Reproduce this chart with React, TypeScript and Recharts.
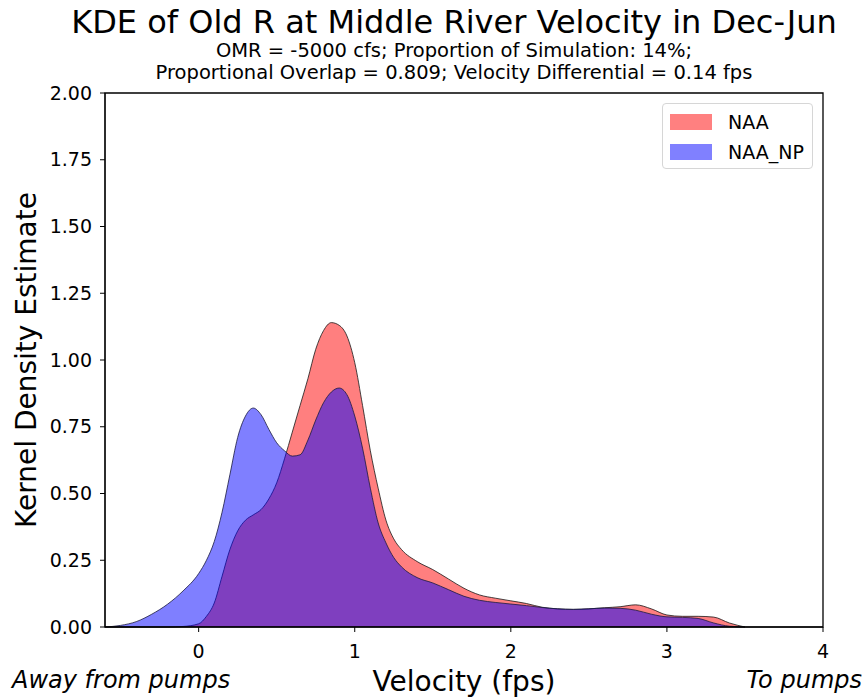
import { ComposedChart, Area, XAxis, YAxis, ReferenceArea } from "recharts"

const velocity = [
  -0.6, -0.5, -0.4, -0.3, -0.2, -0.1,
  0, 0.05, 0.1, 0.15, 0.2, 0.25, 0.3, 0.35, 0.4, 0.45, 0.5, 0.55, 0.6, 0.65, 0.7, 0.75, 0.8, 0.85, 0.9, 0.95,
  1.0, 1.05, 1.1, 1.15, 1.2, 1.25, 1.3,
  1.4, 1.5, 1.6, 1.7, 1.8, 1.9, 2.0, 2.1, 2.2, 2.3, 2.4, 2.5, 2.6, 2.7, 2.8, 2.9, 3.0, 3.1, 3.2, 3.3, 3.4, 3.5,
]

const naa = [
  0, 0, 0, 0, 0, 0.002,
  0.012, 0.04, 0.09, 0.19, 0.29, 0.36, 0.4, 0.42, 0.44, 0.48, 0.54, 0.63, 0.73, 0.83, 0.93, 1.04, 1.11, 1.14, 1.13, 1.09,
  0.99, 0.83, 0.66, 0.52, 0.4, 0.33, 0.29,
  0.245, 0.215, 0.18, 0.145, 0.12, 0.108, 0.098, 0.088, 0.074, 0.068, 0.066, 0.068, 0.072, 0.076, 0.083, 0.068, 0.045, 0.04, 0.04, 0.037, 0.015, 0,
]

const naaNp = [
  0, 0.006, 0.02, 0.048, 0.085, 0.135,
  0.2, 0.25, 0.32, 0.43, 0.57, 0.71, 0.79, 0.82, 0.795, 0.74, 0.69, 0.66, 0.64, 0.645, 0.7, 0.775, 0.84, 0.88, 0.895, 0.87,
  0.79, 0.67, 0.52, 0.39, 0.315, 0.26, 0.225,
  0.185, 0.165, 0.14, 0.115, 0.1, 0.092, 0.086, 0.08, 0.073, 0.068, 0.066, 0.068, 0.071, 0.07, 0.063, 0.048, 0.038, 0.036, 0.032, 0.015, 0.003, 0,
]

const xTicks = [0, 1, 2, 3, 4]
const yTicks = [0, 0.25, 0.5, 0.75, 1.0, 1.25, 1.5, 1.75, 2.0]

const data = velocity.map((v, i) => ({ v, naa: naa[i], naaNp: naaNp[i] }))

const FONT = "DejaVu Sans, sans-serif"

function LegendBox() {
  const row = (color: string, label: string) => (
    <div style={{ display: "flex", alignItems: "center", height: 30 }}>
      <div style={{ width: 42, height: 16, background: color, marginLeft: 7, marginRight: 16 }} />
      <span style={{ fontSize: 19, fontFamily: FONT, color: "#000" }}>{label}</span>
    </div>
  )
  return (
    <div
      style={{
        position: "absolute",
        left: 662,
        top: 103,
        width: 151,
        height: 66,
        boxSizing: "border-box",
        border: "1px solid #d6d6d6",
        borderRadius: 4,
        background: "#fff",
        paddingTop: 3,
      }}
    >
      {row("#ff8080", "NAA")}
      {row("#8080ff", "NAA_NP")}
    </div>
  )
}

const center = (top: number, size: number, text: string) => (
  <div
    style={{
      position: "absolute",
      left: 0,
      width: 908,
      top,
      textAlign: "center",
      fontFamily: FONT,
      fontSize: size,
      lineHeight: 1,
      color: "#000",
      whiteSpace: "nowrap",
    }}
  >
    {text}
  </div>
)

export default function App() {
  return (
    <div style={{ position: "absolute", left: 0, top: 0, width: 865, height: 697, background: "#fff" }}>
      {center(6, 32, "KDE of Old R at Middle River Velocity in Dec-Jun")}
      {center(41, 19.5, "OMR = -5000 cfs; Proportion of Simulation: 14%;")}
      {center(63, 19.5, "Proportional Overlap = 0.809; Velocity Differential = 0.14 fps")}
      <ComposedChart
        width={865}
        height={697}
        data={data}
        margin={{ top: 93, right: 42, bottom: 40, left: 45 }}
      >
        <XAxis
          dataKey="v"
          type="number"
          domain={[-0.6, 4]}
          ticks={xTicks}
          height={30}
          tickSize={5}
          tickMargin={13}
          axisLine={{ stroke: "#000" }}
          tickLine={{ stroke: "#000" }}
          tick={{ fill: "#000", fontSize: 19, fontFamily: FONT }}
          allowDataOverflow
          label={{ value: "Velocity (fps)", position: "insideBottom", offset: -34, fill: "#000", fontSize: 28, fontFamily: FONT }}
        />
        <YAxis
          type="number"
          domain={[0, 2]}
          ticks={yTicks}
          width={60}
          tickSize={5}
          tickMargin={8}
          axisLine={{ stroke: "#000" }}
          tickLine={{ stroke: "#000" }}
          tick={{ fill: "#000", fontSize: 19, fontFamily: FONT }}
          tickFormatter={(t: number) => t.toFixed(2)}
          label={{ value: "Kernel Density Estimate", angle: -90, position: "insideLeft", offset: -19, fill: "#000", fontSize: 28, fontFamily: FONT, style: { textAnchor: "middle" } }}
        />
        <Area
          type="monotone"
          dataKey="naa"
          name="NAA"
          stroke="#1a1a1a"
          strokeOpacity={0.8}
          strokeWidth={1}
          fill="#ff0000"
          fillOpacity={0.5}
          isAnimationActive={false}
        />
        <Area
          type="monotone"
          dataKey="naaNp"
          name="NAA_NP"
          stroke="#1a1a40"
          strokeOpacity={0.8}
          strokeWidth={1}
          fill="#0000ff"
          fillOpacity={0.5}
          isAnimationActive={false}
        />
        <ReferenceArea x1={-0.6} x2={4} y1={0} y2={2} fill="none" stroke="#000" strokeWidth={1.3} ifOverflow="visible" />
      </ComposedChart>
      <LegendBox />
      <div style={{ position: "absolute", left: 12, top: 668, fontFamily: FONT, fontSize: 24, lineHeight: 1, fontStyle: "italic", color: "#000" }}>
        Away from pumps
      </div>
      <div style={{ position: "absolute", right: 3, top: 668, fontFamily: FONT, fontSize: 24, lineHeight: 1, fontStyle: "italic", color: "#000" }}>
        To pumps
      </div>
    </div>
  )
}
